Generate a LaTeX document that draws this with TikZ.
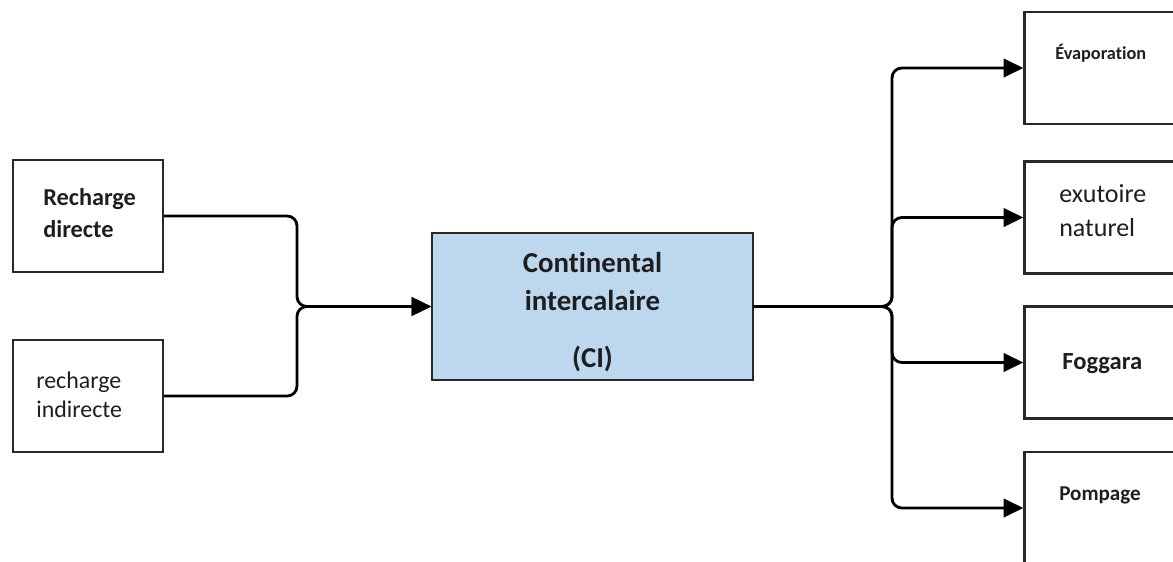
\documentclass[tikz,border=0pt]{standalone}
\usepackage{fontspec}
\setmainfont{Carlito}[Ligatures=NoCommon]
\usetikzlibrary{arrows.meta}
\definecolor{cifill}{RGB}{189,215,238}
\definecolor{edge}{RGB}{40,40,40}
\definecolor{ink}{RGB}{30,30,30}

\begin{document}
\begin{tikzpicture}[x=0.025cm,y=-0.025cm,
	box/.style={draw=edge,line width=1.6pt,minimum width=3.75cm,minimum height=2.8cm,inner sep=0pt},
	outbox/.style={box,minimum width=4.2cm},
	txt/.style={inner sep=0pt,text=ink,align=left,anchor=west},
	citxt/.style={inner sep=0pt,text=ink,anchor=base,font=\fontsize{20.5}{24}\selectfont\bfseries},
	flow/.style={draw=black,line width=2pt,rounded corners=7pt,-{Triangle[length=14pt,width=13pt]}}]
	\clip (0,0) rectangle (1173,561);
	\node[box] (rd) at (88,216) {};
	\node[box] (ri) at (88,396) {};
	\node[box,fill=cifill,line width=1pt,minimum width=8.025cm,minimum height=3.675cm] (ci) at (592.5,306.5) {};
	\node[outbox] (ev) at (1108.5,68) {};
	\node[outbox] (ex) at (1108.5,217.5) {};
	\node[outbox] (fg) at (1108.5,362.5) {};
	\node[outbox] (pp) at (1108.5,508) {};
	\node[txt,font=\fontsize{17.3}{23}\selectfont\bfseries] (rd-t) at (43,213) {Recharge\\directe};
	\node[txt,font=\fontsize{17}{21}\selectfont] (ri-t) at (36,395) {recharge\\indirecte};
	\node[citxt] (ci-a) at (592.5,272) {Continental};
	\node[citxt] (ci-b) at (592.5,310) {intercalaire};
	\node[citxt] (ci-c) at (592.5,367) {(CI)};
	\node[txt,font=\fontsize{13}{15}\selectfont\bfseries] (ev-t) at (1055,53) {Évaporation};
	\node[txt,font=\fontsize{18.5}{24}\selectfont] (ex-t) at (1059,211) {exutoire\\naturel};
	\node[txt,font=\fontsize{17.5}{19}\selectfont\bfseries] (fg-t) at (1062,364) {Foggara};
	\node[txt,font=\fontsize{15}{18}\selectfont\bfseries] (pp-t) at (1059,495) {Pompage};
	\coordinate (jl) at (297,306.5);
	\coordinate (jr) at (892,306.5);
	\draw[flow] (rd.east) -| (jl) -- (ci.west);
	\draw[flow] (ri.east) -| (jl) -- (ci.west);
	\foreach \n in {ev,ex,fg,pp}
		\draw[flow] (ci.east) -- (jr) |- (\n.west);
\end{tikzpicture}
\end{document}
